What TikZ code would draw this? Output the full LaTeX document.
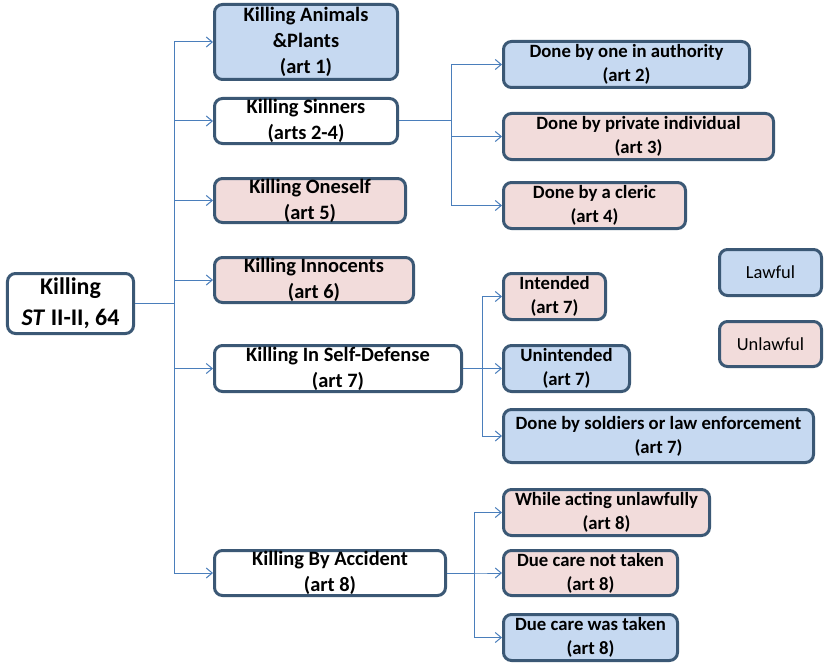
\documentclass[tikz,border=0pt]{standalone}
\usepackage{fontspec}
\setmainfont{Carlito}
\usetikzlibrary{arrows.meta}
\definecolor{lawblue}{HTML}{C6D9F1}
\definecolor{unpink}{HTML}{F2DCDB}
\definecolor{boxline}{HTML}{3B5875}
\definecolor{connline}{HTML}{4A7EBB}
\tikzset{
  box/.style={draw=boxline, line width=3bp, rounded corners=8bp, align=center, inner sep=0pt, font=\bfseries\fontsize{20.5}{26}\selectfont},
  subbox/.style={box, font=\bfseries\fontsize{18.8}{24}\selectfont},
  lawful/.style={fill=lawblue},
  unlawful/.style={fill=unpink},
  neutral/.style={fill=white},
  conn/.style={draw=connline, line width=1bp, -{Straight Barb[length=6bp,width=10bp]}},
}
\begin{document}
\begin{tikzpicture}[x=1bp,y=-1bp]
\useasboundingbox (0,0) rectangle (828,666);
\fill[white] (0,0) rectangle (828,666);

\node[box,neutral,minimum width=126bp,minimum height=60bp,font=\bfseries\fontsize{24}{31}\selectfont] (root) at (70.5,303.5) {Killing\\\textit{ST} II-II, 64};

\node[box,lawful,minimum width=183bp,minimum height=75bp] (a1) at (306,42) {Killing Animals\\\&Plants\\(art 1)};
\node[box,neutral,minimum width=183bp,minimum height=45bp] (a2) at (306,121) {Killing Sinners\\(arts 2-4)};
\node[box,unlawful,minimum width=191bp,minimum height=44bp] (a3) at (310,200.5) {Killing Oneself\\(art 5)};
\node[box,unlawful,minimum width=199bp,minimum height=45bp] (a4) at (314,280) {Killing Innocents\\(art 6)};
\node[box,neutral,minimum width=247bp,minimum height=46bp] (a5) at (338,368.5) {Killing In Self-Defense\\(art 7)};
\node[box,neutral,minimum width=231bp,minimum height=45bp] (a6) at (330,573) {Killing By Accident\\(art 8)};

\node[subbox,lawful,minimum width=246bp,minimum height=46bp] (s1) at (626.5,64.5) {Done by one in authority\\(art 2)};
\node[subbox,unlawful,minimum width=270bp,minimum height=46bp] (s2) at (638.5,136.5) {Done by private individual\\(art 3)};
\node[subbox,unlawful,minimum width=182bp,minimum height=46bp] (s3) at (594.5,205.5) {Done by a cleric\\(art 4)};

\node[subbox,unlawful,minimum width=102bp,minimum height=46bp] (d1) at (554.5,296.5) {Intended\\(art 7)};
\node[subbox,lawful,minimum width=126bp,minimum height=46bp] (d2) at (566.5,368.5) {Unintended\\(art 7)};
\node[subbox,lawful,minimum width=310bp,minimum height=53bp] (d3) at (658.5,436) {Done by soldiers or law enforcement\\(art 7)};

\node[subbox,unlawful,minimum width=206bp,minimum height=46bp] (c1) at (606.5,512.5) {While acting unlawfully\\(art 8)};
\node[subbox,unlawful,minimum width=174bp,minimum height=45bp] (c2) at (590.5,573) {Due care not taken\\(art 8)};
\node[subbox,lawful,minimum width=174bp,minimum height=46bp] (c3) at (590.5,637.5) {Due care was taken\\(art 8)};

\node[box,lawful,minimum width=102bp,minimum height=46bp,font=\fontsize{18.5}{24}\selectfont] (lw) at (770.5,272.5) {Lawful};
\node[box,unlawful,minimum width=102bp,minimum height=45bp,font=\fontsize{18.5}{24}\selectfont] (ul) at (770.5,344) {Unlawful};

\coordinate (tr) at (174,303.5);
\coordinate (ts) at (451,121);
\coordinate (td) at (482,368.5);
\coordinate (tc) at (474,573);

\foreach \n in {a1,a2,a3,a4,a5,a6}
  \draw[conn] (root.east) -- (tr) |- (\n.west);
\foreach \n in {s1,s2,s3}
  \draw[conn] (a2.east) -- (ts) |- (\n.west);
\foreach \n in {d1,d2,d3}
  \draw[conn] (a5.east) -- (td) |- (\n.west);
\foreach \n in {c1,c2,c3}
  \draw[conn] (a6.east) -- (tc) |- (\n.west);
\end{tikzpicture}
\end{document}
